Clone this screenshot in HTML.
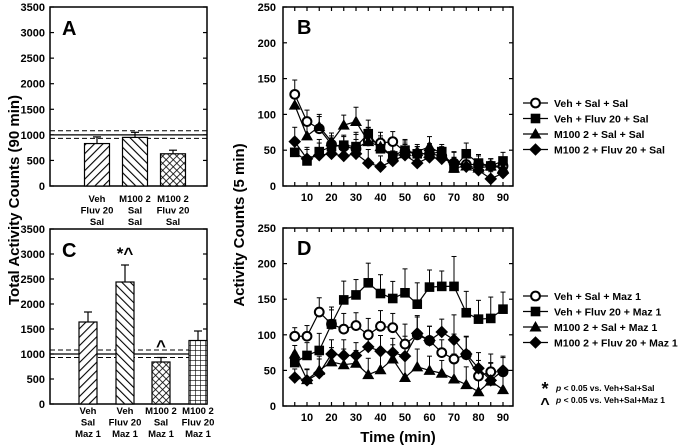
<!DOCTYPE html>
<html><head><meta charset="utf-8"><style>
body{margin:0;background:#fff;}
svg{display:block;font-family:"Liberation Sans",Arial,sans-serif;font-weight:bold;}
</style></head><body>
<svg id="chart" width="682" height="446" viewBox="0 0 682 446" xmlns="http://www.w3.org/2000/svg">
<defs>
<pattern id="fwd" patternUnits="userSpaceOnUse" width="6" height="6" patternTransform="rotate(45)"><rect width="6" height="6" fill="#fff"/><line x1="0" y1="0" x2="0" y2="6" stroke="#000" stroke-width="2.2"/></pattern>
<pattern id="bwd" patternUnits="userSpaceOnUse" width="6" height="6" patternTransform="rotate(-45)"><rect width="6" height="6" fill="#fff"/><line x1="0" y1="0" x2="0" y2="6" stroke="#000" stroke-width="2.2"/></pattern>
<pattern id="cross" patternUnits="userSpaceOnUse" width="5" height="5" patternTransform="rotate(45)"><rect width="5" height="5" fill="#fff"/><line x1="0" y1="0" x2="0" y2="5" stroke="#000" stroke-width="1.6"/><line x1="0" y1="0" x2="5" y2="0" stroke="#000" stroke-width="1.6"/></pattern>
<pattern id="grid" patternUnits="userSpaceOnUse" width="5" height="5"><rect width="5" height="5" fill="#fff"/><line x1="0" y1="0" x2="0" y2="5" stroke="#000" stroke-width="1.2"/><line x1="0" y1="0" x2="5" y2="0" stroke="#000" stroke-width="1.2"/></pattern>
</defs>
<text transform="translate(19,200) rotate(-90)" text-anchor="middle" font-size="15">Total Activity Counts (90 min)</text>
<text transform="translate(244,225) rotate(-90)" text-anchor="middle" font-size="15">Activity Counts (5 min)</text>
<text x="398" y="442" text-anchor="middle" font-size="15">Time (min)</text>
</svg>
<script>
// Panel A data
const aLabels=[["Veh","Fluv 20","Sal"],["M100 2","Sal","Sal"],["M100 2","Fluv 20","Sal"]];
const aValues=[830,950,630];
const aErrors=[130,100,70];
// Panel C data
const cLabels=[["Veh","Sal","Maz 1"],["Veh","Fluv 20","Maz 1"],["M100 2","Sal","Maz 1"],["M100 2","Fluv 20","Maz 1"]];
const cValues=[1640,2440,840,1270];
const cErrors=[200,340,90,190];
const cMarks=["","*^","^",""];
const barTicks=[0,500,1000,1500,2000,2500,3000,3500];
const refLine=1000, refUpper=1080, refLower=930;
// Time-course data
const times=[5,10,15,20,25,30,35,40,45,50,55,60,65,70,75,80,85,90];
const lineTicks=[0,50,100,150,200,250];
const timeTicks=[10,20,30,40,50,60,70,80,90];
const bCircle=[128,90,80,58,55,52,63,60,62,48,45,45,42,32,30,30,28,28];
const bSquare=[47,35,48,55,57,55,73,52,42,50,45,45,48,25,45,32,28,35];
const bTriangle=[113,70,83,62,85,90,62,55,42,45,48,55,45,25,28,25,28,25];
const bDiamond=[62,38,43,45,42,45,32,27,35,43,32,40,38,33,27,22,10,18];
const dCircle=[98,98,132,115,108,113,100,112,110,87,100,92,75,66,72,42,48,48];
const dSquare=[61,71,78,115,149,156,173,158,151,159,143,167,168,168,131,122,123,136];
const dTriangle=[73,37,50,62,58,60,44,51,66,40,55,50,46,38,30,20,35,23];
const dDiamond=[40,36,46,73,71,71,83,77,75,70,102,92,104,93,73,53,36,50];
const bErr=[20,16,17,12,14,20,19,15,14,15,10,14,10,15,15,12,10,12];
const dErr=[12,15,20,20,22,18,23,22,20,28,25,20,18,35,25,22,25,20];
const bNames=["Veh + Sal + Sal","Veh + Fluv 20 + Sal","M100 2 + Sal + Sal","M100 2 + Fluv 20 + Sal"];
const dNames=["Veh + Sal + Maz 1","Veh + Fluv 20 + Maz 1","M100 2 + Sal + Maz 1","M100 2 + Fluv 20 + Maz 1"];

const NS="http://www.w3.org/2000/svg";
const svg=document.getElementById('chart');
function mk(tag,attrs,parent){const e=document.createElementNS(NS,tag);for(const k in attrs)e.setAttribute(k,attrs[k]);(parent||svg).appendChild(e);return e;}
function txt(s,x,y,size,anchor,parent){const t=mk('text',{x:x,y:y,'font-size':size,'text-anchor':anchor||'middle'},parent);t.textContent=s;return t;}

function barPanel(name,top,bottom,left,right,letter,values,errors,labels,pats,xs,bw,marks,labelY){
  const g=mk('g',{});
  
  
  const y=v=>bottom-(v/3500)*(bottom-top);
  mk('rect',{x:left,y:top,width:right-left,height:bottom-top,fill:'none',stroke:'#000','stroke-width':1.5},g);
  barTicks.forEach(t=>{
    mk('line',{x1:left,y1:y(t),x2:left+4,y2:y(t),stroke:'#000','stroke-width':1.2},g);
    mk('line',{x1:right,y1:y(t),x2:right-4,y2:y(t),stroke:'#000','stroke-width':1.2},g);
    const l=txt(String(t),left-5,y(t)+4,11,'end',g);
    
    
  });
  mk('line',{x1:left,y1:y(refLine),x2:right,y2:y(refLine),stroke:'#000','stroke-width':1.2},g);
  mk('line',{x1:left,y1:y(refUpper),x2:right,y2:y(refUpper),stroke:'#000','stroke-width':1,'stroke-dasharray':'5,3'},g);
  mk('line',{x1:left,y1:y(refLower),x2:right,y2:y(refLower),stroke:'#000','stroke-width':1,'stroke-dasharray':'5,3'},g);
  values.forEach((v,i)=>{
    const cx=xs[i];
    mk('line',{x1:cx,y1:y(v),x2:cx,y2:y(v+errors[i]),stroke:'#000','stroke-width':1.2},g);
    mk('line',{x1:cx-4,y1:y(v+errors[i]),x2:cx+4,y2:y(v+errors[i]),stroke:'#000','stroke-width':1.2},g);
    const b=mk('rect',{x:cx-bw/2,y:y(v),width:bw,height:bottom-y(v),fill:'url(#'+pats[i]+')',stroke:'#000','stroke-width':1.2},g);
    
    
    labels[i].forEach((s,j)=>{const l=txt(s,cx,labelY+j*11.5,9.5,'middle',g);
      
      });
    if(marks&&marks[i]){const m=txt(marks[i],cx,y(v+errors[i])-6,17,'middle',g);
      
      }
  });
  const L=txt(letter,left+12,top+28,20,'start',g);
  
  
}
barPanel('panel-a',7,186,50,207,'A',aValues,aErrors,aLabels,['fwd','bwd','cross'],[97,135,173],25,null,202);
barPanel('panel-c',229,404,50,207,'C',cValues,cErrors,cLabels,['fwd','bwd','cross','grid'],[88,125,161,198],18,cMarks,414);

function marker(type,x,y,g){
  if(type==0)return mk('circle',{cx:x,cy:y,r:4.4,fill:'#fff',stroke:'#000','stroke-width':2},g);
  if(type==1)return mk('rect',{x:x-4.8,y:y-4.8,width:9.6,height:9.6,fill:'#000'},g);
  if(type==2)return mk('polygon',{points:`${x},${y-6} ${x+6},${y+4.5} ${x-6},${y+4.5}`,fill:'#000'},g);
  return mk('polygon',{points:`${x},${y-6.3} ${x+6.3},${y} ${x},${y+6.3} ${x-6.3},${y}`,fill:'#000'},g);
}
function linePanel(name,top,bottom,letter,series,err,names,legY){
  const left=283,right=513;
  const g=mk('g',{});
  
  
  const x=t=>307+(t-10)*(503-307)/80;
  const y=v=>bottom-(v/250)*(bottom-top);
  mk('rect',{x:left,y:top,width:right-left,height:bottom-top,fill:'none',stroke:'#000','stroke-width':1.5},g);
  lineTicks.forEach(t=>{
    mk('line',{x1:left,y1:y(t),x2:left+4,y2:y(t),stroke:'#000','stroke-width':1.2},g);
    mk('line',{x1:right,y1:y(t),x2:right-4,y2:y(t),stroke:'#000','stroke-width':1.2},g);
    const l=txt(String(t),left-7,y(t)+4,11,'end',g);
    
    
  });
  times.forEach(t=>{
    mk('line',{x1:x(t),y1:bottom,x2:x(t),y2:bottom-4,stroke:'#000','stroke-width':1.2},g);
    mk('line',{x1:x(t),y1:top,x2:x(t),y2:top+4,stroke:'#000','stroke-width':1.2},g);
  });
  timeTicks.forEach(t=>{const l=txt(String(t),x(t),bottom+15,11,'middle',g);
    
    });
  series.forEach((s,k)=>{
    s.forEach((v,i)=>{
      const e=err[i]*(k==1&&name=='panel-d'?1.2:1);
      mk('line',{x1:x(times[i]),y1:y(v),x2:x(times[i]),y2:y(v+e),stroke:'#000','stroke-width':1},g);
      mk('line',{x1:x(times[i])-2.5,y1:y(v+e),x2:x(times[i])+2.5,y2:y(v+e),stroke:'#000','stroke-width':1},g);
    });
  });
  series.forEach((s,k)=>{
    const p=mk('polyline',{points:s.map((v,i)=>x(times[i])+','+y(v)).join(' '),fill:'none',stroke:'#000','stroke-width':1.2},g);
    
    
    s.forEach((v,i)=>{const m=marker(k,x(times[i]),y(v),g);
      
      });
  });
  const L=txt(letter,left+14,top+27,20,'start',g);
  
  
  names.forEach((n,k)=>{
    const ly=legY+k*15.5;
    const lg=mk('g',{},g);
    
    
    mk('line',{x1:523,y1:ly,x2:548,y2:ly,stroke:'#000','stroke-width':1.2},lg);
    marker(k,535.5,ly,lg);
    txt(n,554,ly+4,10.5,'start',lg);
  });
}
linePanel('panel-b',7,186,'B',[bCircle,bSquare,bTriangle,bDiamond],bErr,bNames,103);
linePanel('panel-d',228,406,'D',[dCircle,dSquare,dTriangle,dDiamond],dErr,dNames,296);

const n1=txt('*',545,395,18,'middle');


const n2=txt('^',545,409,16,'middle');


const n3=mk('text',{x:556,y:391,'font-size':8.5,'text-anchor':'start'});
n3.innerHTML='<tspan font-style="italic">p</tspan> &lt; 0.05 vs. Veh+Sal+Sal';


const n4=mk('text',{x:556,y:403,'font-size':8.5,'text-anchor':'start'});
n4.innerHTML='<tspan font-style="italic">p</tspan> &lt; 0.05 vs. Veh+Sal+Maz 1';


</script>
</body></html>
